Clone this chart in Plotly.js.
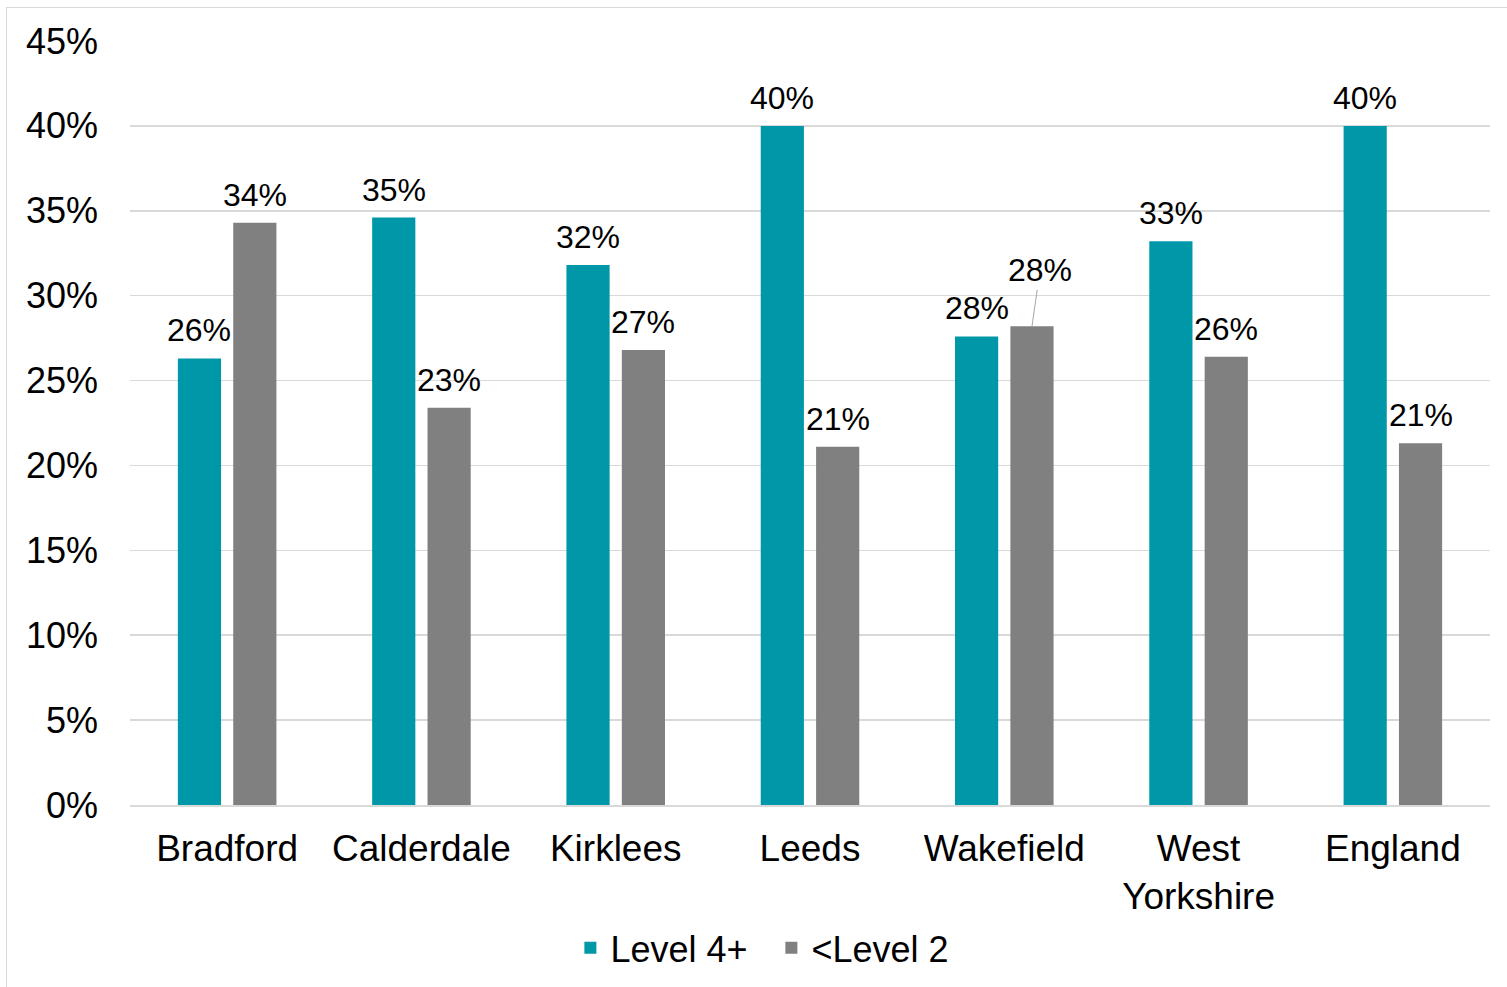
<!DOCTYPE html>
<html>
<head>
<meta charset="utf-8">
<script src="https://cdn.plot.ly/plotly-3.0.1.min.js"></script>
<style>
html, body { margin:0; padding:0; width:1507px; height:987px; overflow:hidden; background:#fff; }
#frame { position:absolute; left:6px; top:7px; width:1600px; height:1100px; border:1px solid #d9d9d9; box-sizing:border-box; }
#chart { position:absolute; left:0; top:0; width:1507px; height:987px; }
</style>
</head>
<body>
<div id="frame"></div>
<div id="chart"></div>
<script>
const categories = ['Bradford', 'Calderdale', 'Kirklees', 'Leeds', 'Wakefield', 'West<br>Yorkshire', 'England'];
const level4Plus = [0.263, 0.346, 0.318, 0.400, 0.276, 0.332, 0.400];
const belowLevel2 = [0.343, 0.234, 0.268, 0.211, 0.282, 0.264, 0.213];
const seriesNames = ['Level 4+', '<Level 2'];
const seriesColors = ['#0097A9', '#808080'];

const FONT = 'Liberation Sans, Arial, sans-serif';

const traces = [
  { type:'bar', name:seriesNames[0], x:categories, y:level4Plus, marker:{color:seriesColors[0]}, hoverinfo:'skip' },
  { type:'bar', name:seriesNames[1], x:categories, y:belowLevel2, marker:{color:seriesColors[1]}, hoverinfo:'skip' }
];

const annotations = [];
const pct = v => Math.round(v * 100) + '%';
[level4Plus, belowLevel2].forEach((vals, si) => {
  vals.forEach((v, i) => {
    const a = {
      x: categories[i], y: v, xref:'x', yref:'y',
      text: pct(v), font:{family:FONT, size:32, color:'#000'},
      xshift: si === 0 ? -27.7 : 27.7,
      showarrow:false, yanchor:'middle', yshift:28
    };
    if (si === 1 && categories[i] === 'Wakefield') {
      a.showarrow = true; a.arrowhead = 0; a.arrowwidth = 1; a.arrowcolor = '#a6a6a6';
      a.ax = 8; a.ay = -56; a.yshift = 0; a.standoff = 0; a.startstandoff = 0;
    }
    annotations.push(a);
  });
});

const layout = {
  width:1507, height:987,
  margin:{l:130, r:17, t:41, b:182, autoexpand:false},
  paper_bgcolor:'rgba(0,0,0,0)', plot_bgcolor:'rgba(0,0,0,0)',
  barmode:'group', bargap:0.43, bargroupgap:0.22,
  font:{family:FONT, color:'#000'},
  xaxis:{
    type:'category', range:[-0.5, 6.5],
    showgrid:false, showline:true, linecolor:'#d9d9d9', linewidth:1.5,
    ticks:'', tickfont:{family:FONT, size:37, color:'#000'},
    ticklabelstandoff:10, fixedrange:true, automargin:false
  },
  yaxis:{
    range:[0, 0.45], dtick:0.05, tickformat:'.0%',
    showgrid:true, gridcolor:'#d9d9d9', gridwidth:1.5,
    zeroline:false, showline:false, ticks:'',
    tickfont:{family:FONT, size:36, color:'#000'},
    ticklabelstandoff:31, fixedrange:true, automargin:false
  },
  showlegend:true,
  legend:{
    orientation:'h', x:0.4716, xanchor:'center', y:-0.187, yanchor:'middle',
    font:{family:FONT, size:36, color:'#000'},
    entrywidth:156, entrywidthmode:'pixels', bgcolor:'rgba(0,0,0,0)'
  },
  annotations: annotations
};

Plotly.newPlot('chart', traces, layout, {displayModeBar:false, staticPlot:true});
</script>
</body>
</html>
